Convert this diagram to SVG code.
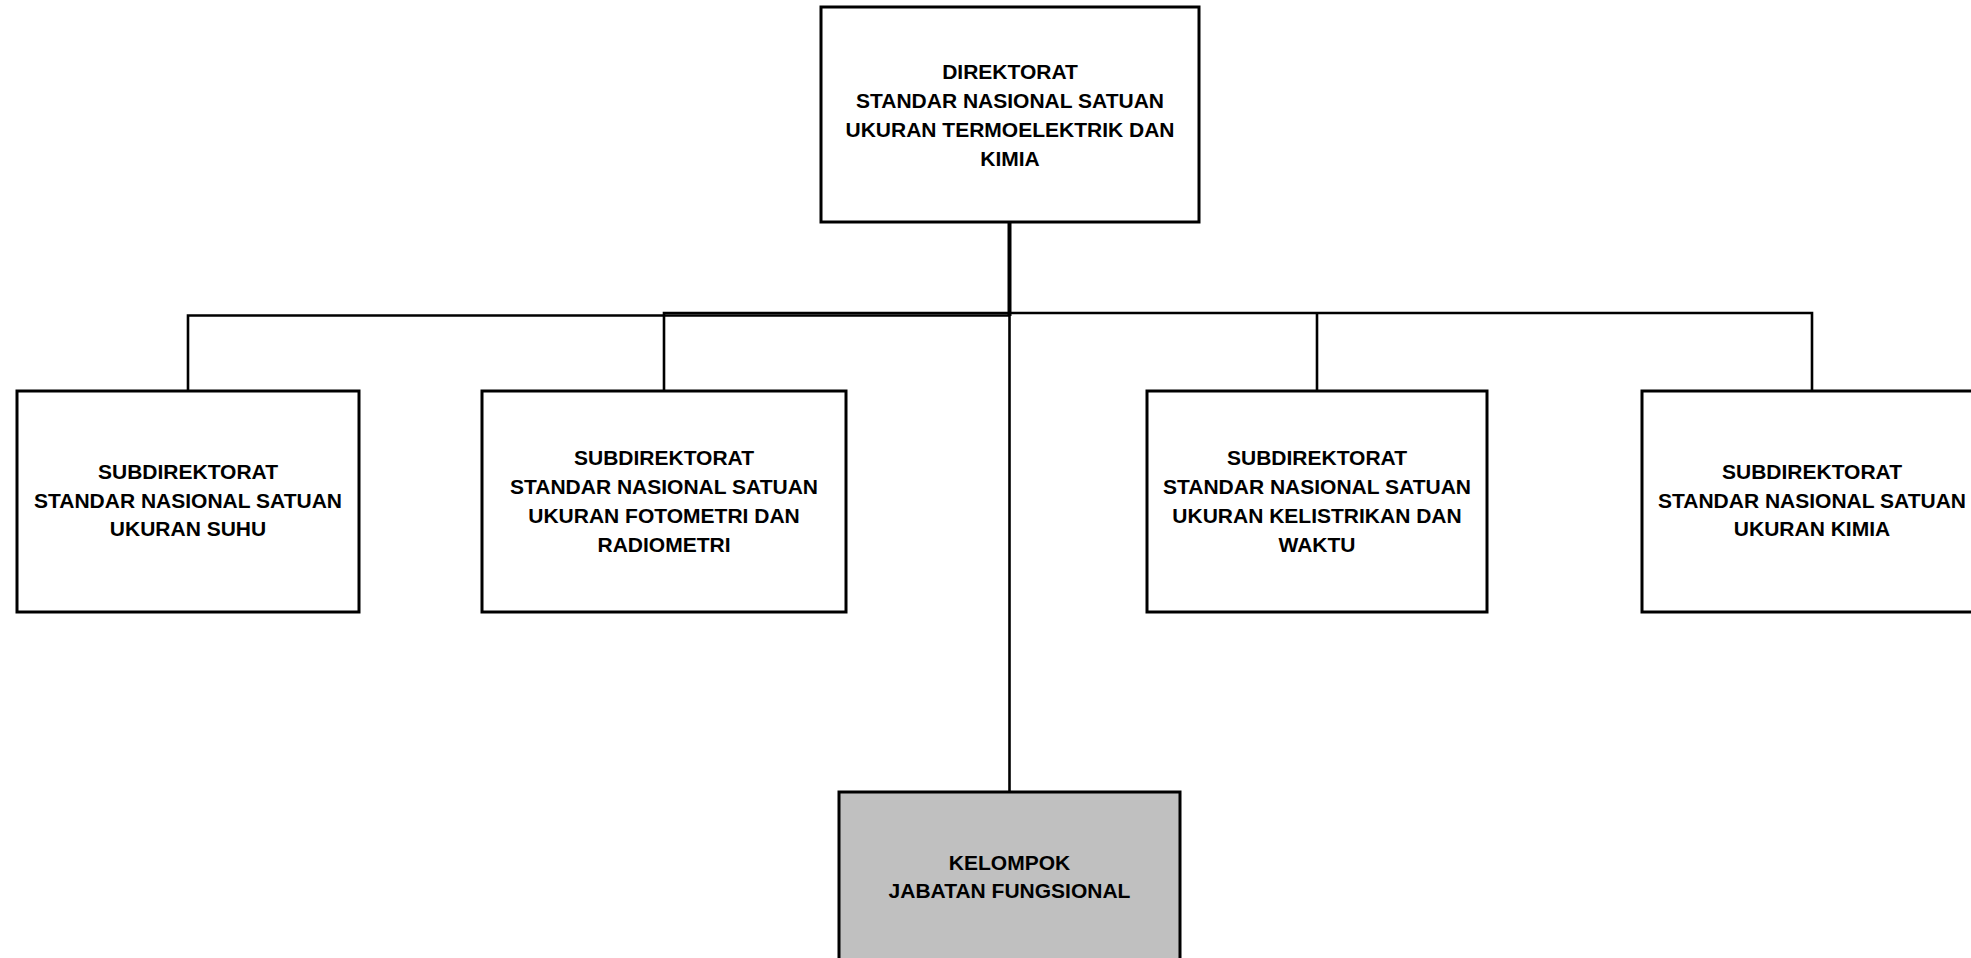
<svg xmlns="http://www.w3.org/2000/svg" width="1971" height="958" viewBox="0 0 1971 958">
<style>
.box{fill:#ffffff;stroke:#000;stroke-width:3}
.gray{fill:#c0c0c0;stroke:#000;stroke-width:3}
.t{font-family:"Liberation Sans",Arial,sans-serif;font-weight:bold;font-size:21px;fill:#000;text-anchor:middle}
.c{stroke:#000;stroke-width:2.6;fill:none}
.ct{stroke:#000;stroke-width:4;fill:none}
</style>
<rect width="1971" height="958" fill="#fff"/>
<g id="connectors">
<line class="ct" x1="1009.5" y1="222" x2="1009.5" y2="316"/>
<line class="c" x1="1009.5" y1="313" x2="1009.5" y2="792"/>
<polyline class="c" points="188,391 188,315.5 1009.5,315.5"/>
<polyline class="c" points="664,391 664,313 1812,313 1812,391"/>
<line class="c" x1="1317" y1="313" x2="1317" y2="391"/>
</g>
<g id="direktorat">
<rect class="box" x="821" y="7" width="378" height="215"/>
<text class="t" x="1010" y="79">DIREKTORAT</text>
<text class="t" x="1010" y="108">STANDAR NASIONAL SATUAN</text>
<text class="t" x="1010" y="137">UKURAN TERMOELEKTRIK DAN</text>
<text class="t" x="1010" y="166">KIMIA</text>
</g>
<g id="sub-suhu">
<rect class="box" x="17" y="391" width="342" height="221"/>
<text class="t" x="188" y="479">SUBDIREKTORAT</text>
<text class="t" x="188" y="507.5">STANDAR NASIONAL SATUAN</text>
<text class="t" x="188" y="536">UKURAN SUHU</text>
</g>
<g id="sub-fotometri">
<rect class="box" x="482" y="391" width="364" height="221"/>
<text class="t" x="664" y="465">SUBDIREKTORAT</text>
<text class="t" x="664" y="494">STANDAR NASIONAL SATUAN</text>
<text class="t" x="664" y="523">UKURAN FOTOMETRI DAN</text>
<text class="t" x="664" y="552">RADIOMETRI</text>
</g>
<g id="sub-kelistrikan">
<rect class="box" x="1147" y="391" width="340" height="221"/>
<text class="t" x="1317" y="465">SUBDIREKTORAT</text>
<text class="t" x="1317" y="494">STANDAR NASIONAL SATUAN</text>
<text class="t" x="1317" y="523">UKURAN KELISTRIKAN DAN</text>
<text class="t" x="1317" y="552">WAKTU</text>
</g>
<g id="sub-kimia">
<rect class="box" x="1642" y="391" width="340" height="221"/>
<text class="t" x="1812" y="479">SUBDIREKTORAT</text>
<text class="t" x="1812" y="507.5">STANDAR NASIONAL SATUAN</text>
<text class="t" x="1812" y="536">UKURAN KIMIA</text>
</g>
<g id="kelompok">
<rect class="gray" x="839" y="792" width="341" height="180"/>
<text class="t" x="1009.5" y="870">KELOMPOK</text>
<text class="t" x="1009.5" y="898">JABATAN FUNGSIONAL</text>
</g>
</svg>
